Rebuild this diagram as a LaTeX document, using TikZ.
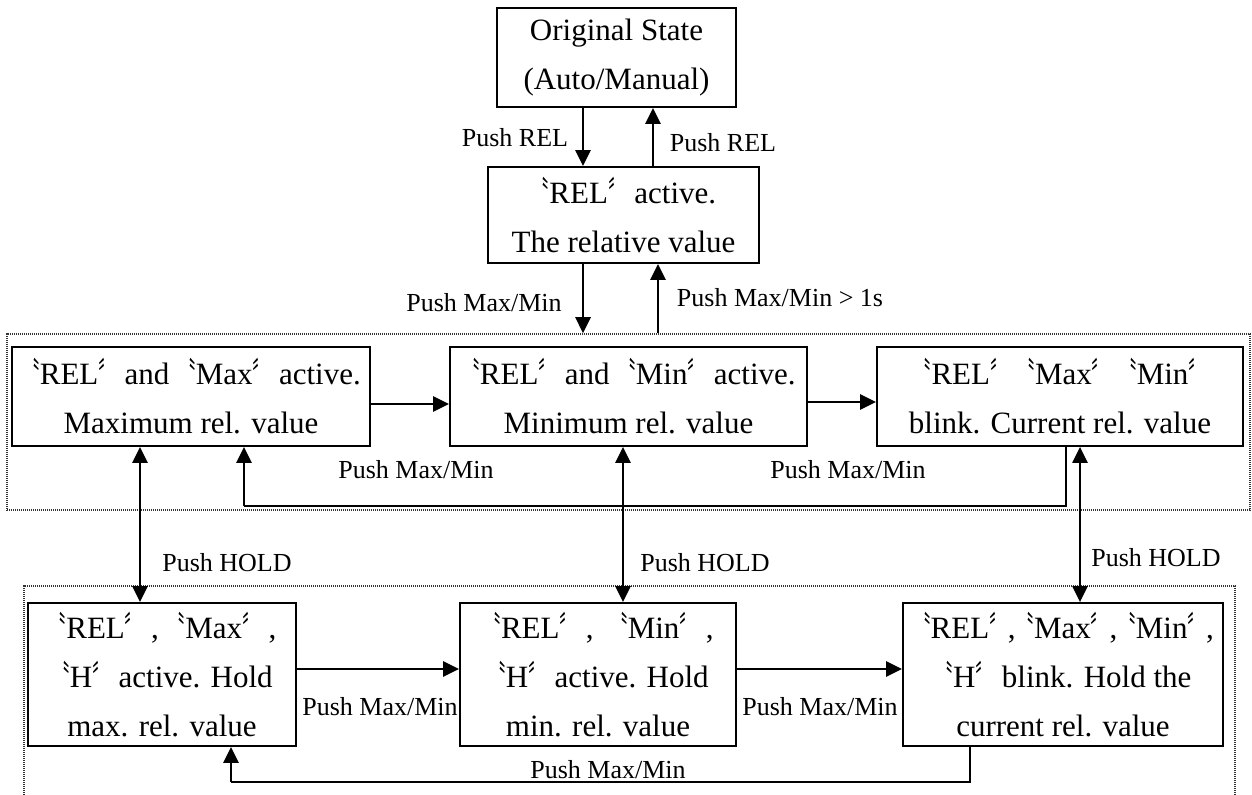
\documentclass[tikz,border=0pt]{standalone}
\usepackage{fontspec}
\setmainfont{Liberation Serif}
\newfontfamily\cjk{Noto Sans CJK SC}
\usepackage{graphicx}
\usepackage{tikz}
\usetikzlibrary{arrows.meta,positioning,calc}
\newcommand{\qopen}{\scalebox{0.6}[1]{\cjk 〝}}
\newcommand{\qclose}{\scalebox{0.6}[1]{\cjk 〞}}

\begin{document}
\begin{tikzpicture}[x=0.5pt,y=-0.5pt,
    state/.style={draw, line width=0.9pt, align=center, inner sep=0pt,
        font=\fontsize{15.5}{24.5}\selectfont},
    lbl/.style={font=\fontsize{13}{15}\selectfont, inner sep=0pt},
    arr/.style={line width=1.4pt, -{Triangle[length=8pt,width=7.5pt]}},
    darr/.style={line width=1.2pt, {Triangle[length=8pt,width=7.5pt]}-{Triangle[length=8pt,width=7.5pt]}},
    back/.style={line width=0.8pt},
    group/.style={draw=black!80, line width=0.8pt, dash pattern=on 0.6pt off 0.4pt}]
    \useasboundingbox (0,0) rectangle (1252,795);

    % dotted frames
    \node[group, minimum width=621.5pt, minimum height=88pt] (grp1) at (628.5,422) {};
    \coordinate (g2a) at (24,795);
    \coordinate (g2b) at (1235,795);
    \draw[group] (g2a) |- (g2b |- 0,586) -- (g2b);

    % top states
    \node[state, minimum width=119.5pt, minimum height=49.5pt] (orig) at (616.5,57.5)
        {Original State\\(Auto/Manual)};
    \node[state, minimum width=135.5pt, minimum height=48pt] (rel) at (623.5,215)
        {\qopen REL\qclose\ active.\\The relative value};

    % max/min row
    \begin{scope}[minimum height=49.5pt]
        \node[state, minimum width=179pt] (maxrel) at (191,396.5)
            {\qopen REL\qclose\ and \qopen Max\qclose\ active.\\Maximum rel. value};
        \node[state, minimum width=178.5pt] (minrel) at (628.5,396.5)
            {\qopen REL\qclose\ and \qopen Min\qclose\ active.\\Minimum rel. value};
        \node[state, minimum width=183pt] (currel) at (1060,396.5)
            {\qopen REL\qclose\ \qopen Max\qclose\ \qopen Min\qclose\\blink. Current rel. value};
    \end{scope}

    % hold row
    \begin{scope}[minimum height=71.5pt]
        \node[state, minimum width=134pt] (holdmax) at (162,674.5)
            {\qopen REL\qclose\ , \qopen Max\qclose\ ,\\\qopen H\qclose\ active. Hold\\max. rel. value};
        \node[state, minimum width=138pt] (holdmin) at (598,674.5)
            {\qopen REL\qclose\ ,\ \ \qopen Min\qclose\ ,\\\qopen H\qclose\ active. Hold\\min. rel. value};
        \node[state, minimum width=160pt] (holdcur) at (1063,674.5)
            {\qopen REL\qclose,\qopen Max\qclose,\qopen Min\qclose,\\\qopen H\qclose\ blink. Hold the\\current rel. value};
    \end{scope}

    % REL in and out
    \draw[arr] (orig.south -| 583,0) -- (rel.north -| 583,0);
    \draw[arr] (rel.north -| 653,0) -- (orig.south -| 653,0);
    \node[lbl] (pr1) at (515,138) {Push REL};
    \node[lbl] (pr2) at (723,143) {Push REL};

    \draw[arr] (rel.south -| 583,0) -- (grp1.north -| 583,0);
    \draw[arr] (grp1.north -| 658,0) -- (rel.south -| 658,0);
    \node[lbl] (pm1) at (484,303) {Push Max/Min};
    \node[lbl] (pm2) at (780,298) {Push Max/Min > 1s};

    % cycle through max, min, current
    \draw[arr] (maxrel.east |- 0,404) -- (minrel.west |- 0,404);
    \draw[arr] (minrel.east |- 0,402) -- (currel.west |- 0,402);
    \coordinate (r1) at (244,506);
    \draw[back] (currel.south -| 1066,0) |- (r1);
    \draw[arr] (r1) -- (maxrel.south -| r1);
    \node[lbl] (pm3) at (416,470) {Push Max/Min};
    \node[lbl] (pm4) at (848,470) {Push Max/Min};

    % hold
    \draw[darr] (maxrel.south -| 140,0) -- (holdmax.north -| 140,0);
    \draw[darr] (minrel.south -| 623,0) -- (holdmin.north -| 623,0);
    \draw[darr] (currel.south -| 1080,0) -- (holdcur.north -| 1080,0);
    \node[lbl] (ph1) at (227,563) {Push HOLD};
    \node[lbl] (ph2) at (705,563) {Push HOLD};
    \node[lbl] (ph3) at (1156,558) {Push HOLD};

    % cycle through held values
    \draw[arr] (holdmax.east |- 0,669) -- (holdmin.west |- 0,669);
    \draw[arr] (holdmin.east |- 0,669) -- (holdcur.west |- 0,669);
    \coordinate (r2) at (231,782);
    \draw[back] (holdcur.south -| 970,0) |- (r2);
    \draw[arr] (r2) -- (holdmax.south -| r2);
    \node[lbl] (pm5) at (380,707) {Push Max/Min};
    \node[lbl] (pm6) at (820,707) {Push Max/Min};
    \node[lbl] (pm7) at (608,770) {Push Max/Min};
\end{tikzpicture}
\end{document}
